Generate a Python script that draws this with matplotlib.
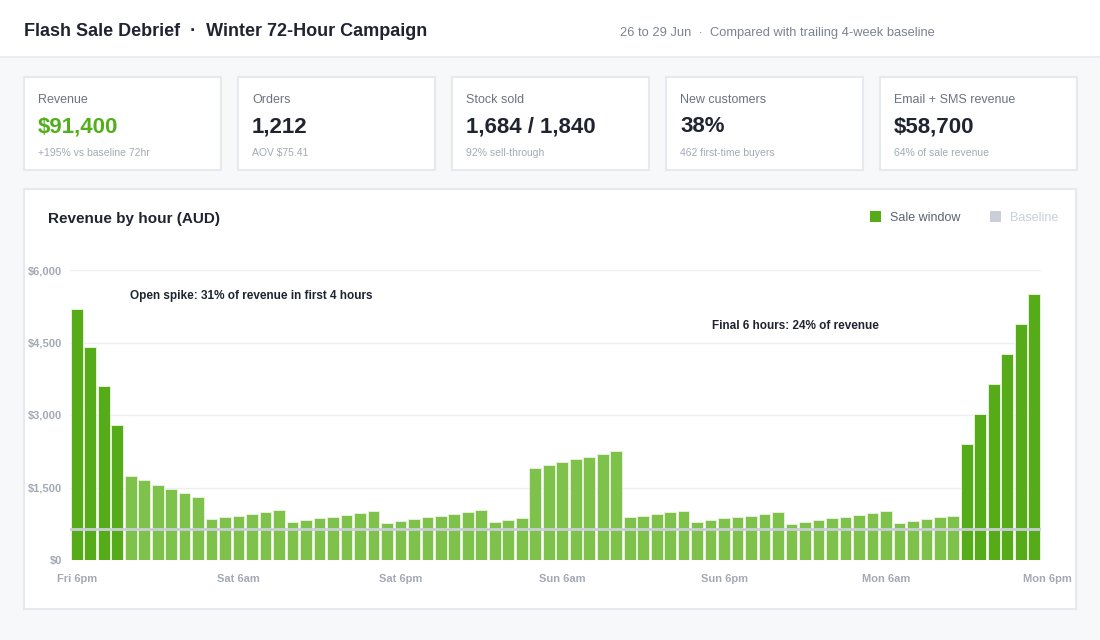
import numpy as np
import matplotlib.pyplot as plt
from matplotlib.patches import Rectangle

plt.rcParams['font.family'] = ['Liberation Sans', 'DejaVu Sans']

# hourly revenue over the 72-hour sale (AUD), Fri 6pm -> Mon 6pm
revenue = [5200, 4400, 3600, 2800, 1740, 1650, 1560, 1470, 1380, 1300,
           840, 880, 920, 960, 1000, 1040, 780, 820, 860, 900, 940, 980, 1020,
           760, 800, 840, 880, 920, 960, 1000, 1040, 780, 820, 860,
           1900, 1960, 2020, 2080, 2140, 2200, 2260,
           880, 920, 960, 1000, 1020, 780, 820, 860, 880, 920, 960, 1000,
           750, 790, 830, 870, 900, 940, 980, 1010, 770, 800, 840, 880, 910,
           2400, 3020, 3640, 4260, 4880, 5500]
peak_hours = [0, 1, 2, 3, 66, 67, 68, 69, 70, 71]
baseline_hourly = 650

x_ticks = [0, 12, 24, 36, 48, 60, 72]
x_labels = ["Fri 6pm", "Sat 6am", "Sat 6pm", "Sun 6am", "Sun 6pm", "Mon 6am", "Mon 6pm"]
y_ticks = [0, 1500, 3000, 4500, 6000]
y_labels = ["$0", "$1,500", "$3,000", "$4,500", "$6,000"]

kpi_labels = ["Revenue", "Orders", "Stock sold", "New customers", "Email + SMS revenue"]
kpi_values = ["$91,400", "1,212", "1,684 / 1,840", "38%", "$58,700"]
kpi_notes = ["+195% vs baseline 72hr", "AOV $75.41", "92% sell-through",
             "462 first-time buyers", "64% of sale revenue"]

W, H = 1100, 640
DARK = "#56ab18"
LIGHT = "#7fc24b"
TXT = "#1f2430"
GREY = "#6b7280"
MUTED = "#a3a9b5"
BORDER = "#e6e9ee"

fig = plt.figure(figsize=(W / 100, H / 100), dpi=100)
fig.patch.set_facecolor("#f7f8fa")


def px(x, y):
    # pixel coords (top-left origin) -> figure fraction
    return x / W, 1 - y / H


def box(x0, y0, x1, y1, face="white", edge=BORDER, lw=1.5):
    fig.patches.append(Rectangle(px(x0, y1), (x1 - x0) / W, (y1 - y0) / H,
                                 transform=fig.transFigure, facecolor=face,
                                 edgecolor=edge, linewidth=lw, zorder=-1))


# header band
box(-5, -5, W + 5, 57, face="white", edge="#e9ecf0", lw=1.2)
fig.text(*px(24, 32), "Flash Sale Debrief  \u00b7  Winter 72-Hour Campaign",
         fontsize=13, fontweight="bold", color=TXT, va="center")
fig.text(*px(620, 33), "26 to 29 Jun  \u00b7  Compared with trailing 4-week baseline",
         fontsize=9.3, color="#7c8390", va="center")

# kpi cards
card_x = [24, 238, 452, 666, 880]
for i in range(5):
    x0 = card_x[i]
    box(x0, 77, x0 + 197, 170)
    fig.text(*px(x0 + 14, 100), kpi_labels[i], fontsize=9, color=GREY, va="center")
    fig.text(*px(x0 + 14, 127), kpi_values[i], fontsize=16, fontweight="bold",
             color="#52ae1a" if i == 0 else TXT, va="center")
    fig.text(*px(x0 + 14, 153), kpi_notes[i], fontsize=7.5, color=MUTED, va="center")

# chart card
box(24, 189, 1076, 609)
fig.text(*px(48, 219), "Revenue by hour (AUD)", fontsize=11, fontweight="bold",
         color=TXT, va="center")
fig.patches.append(Rectangle(px(870, 222), 11 / W, 11 / H, transform=fig.transFigure,
                             facecolor=DARK, edgecolor="none"))
fig.text(*px(890, 218), "Sale window", fontsize=9, color="#5b6270", va="center")
fig.patches.append(Rectangle(px(990, 222), 11 / W, 11 / H, transform=fig.transFigure,
                             facecolor="#c9ced8", edgecolor="none"))
fig.text(*px(1010, 218), "Baseline", fontsize=9, color="#c9ced8", va="center")

ax = fig.add_axes([70 / W, 1 - 560 / H, (1041 - 70) / W, 290 / H])
ax.set_facecolor("none")
ax.set_zorder(2)

hours = np.arange(len(revenue))
colors = [DARK if h in peak_hours else LIGHT for h in hours]
ax.bar(hours, revenue, width=0.87, color=colors, edgecolor="#e4f2d8",
       linewidth=0.7, zorder=2)
ax.axhline(baseline_hourly, color="#c9ced8", linewidth=2, zorder=3)

ax.set_yticks(y_ticks)
ax.set_yticklabels(y_labels)
ax.set_xticks(x_ticks[:-1])
ax.set_xticklabels(x_labels[:-1])
ax.set_xlim(-0.5, 71.5)
ax.set_ylim(0, 6000)
ax.tick_params(axis="both", length=0, labelsize=8, labelcolor=MUTED)
ax.tick_params(axis="y", pad=5.5)
ax.tick_params(axis="x", pad=10)
for lab in ax.get_yticklabels() + ax.get_xticklabels():
    lab.set_fontweight("bold")
# last label sits past the final bar
ax.annotate(x_labels[-1], xy=(x_ticks[-1], 0), xycoords=ax.get_xaxis_transform(),
            xytext=(0, -10), textcoords="offset points", ha="center", va="top",
            fontsize=8, fontweight="bold", color=MUTED, annotation_clip=False)
ax.grid(axis="y", color="#eeeff2", linewidth=1, zorder=0)
ax.set_axisbelow(True)
for s in ax.spines.values():
    s.set_visible(False)

ax.text(3.95, 5460, "Open spike: 31% of revenue in first 4 hours", fontsize=8.5,
        fontweight="bold", color=TXT, va="center", ha="left")
ax.text(59.5, 4840, "Final 6 hours: 24% of revenue", fontsize=8.5,
        fontweight="bold", color=TXT, va="center", ha="right")

fig.savefig("out.png", dpi=100, facecolor=fig.get_facecolor())
